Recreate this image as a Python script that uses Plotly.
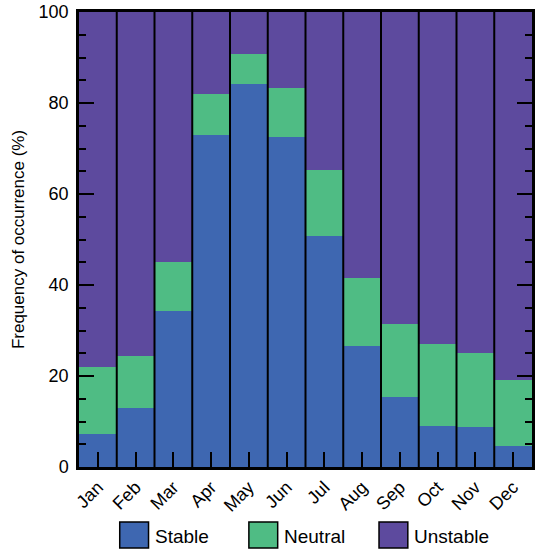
import plotly.graph_objects as go

months = ["Jan", "Feb", "Mar", "Apr", "May", "Jun", "Jul", "Aug", "Sep", "Oct", "Nov", "Dec"]
stable = [7.3, 13.0, 34.3, 73.0, 84.2, 72.5, 50.8, 26.6, 15.4, 9.0, 8.8, 4.6]
stable_plus_neutral = [21.9, 24.4, 45.0, 82.0, 90.8, 83.3, 65.3, 41.5, 31.4, 27.0, 25.1, 19.1]
neutral = [round(t - s, 1) for t, s in zip(stable_plus_neutral, stable)]
unstable = [round(100 - t, 1) for t in stable_plus_neutral]

series_names = ["Stable", "Neutral", "Unstable"]
series_values = [stable, neutral, unstable]
colors = ["#3E67B1", "#4FBC84", "#5D4A9E"]

W, H = 536, 549
L, R, T, B = 79, 1, 12, 82
pw, ph = W - L - R, H - T - B

def px(x):
    return (x - L) / pw

def py(y):
    return (H - B - y) / ph

fig = go.Figure()
for name, vals, c in zip(series_names, series_values, colors):
    fig.add_trace(go.Bar(x=months, y=vals, name=name, marker=dict(color=c, line=dict(width=0)),
                         showlegend=False, hoverinfo="skip"))

shapes = []
for i in range(len(months) - 1):
    shapes.append(dict(type="line", xref="x", yref="paper", x0=i + 0.5, x1=i + 0.5, y0=0, y1=1,
                       line=dict(color="black", width=2), layer="above"))

annotations = []
leg_x = [120, 250, 381]
text_x = [153, 283, 414]
for name, c, sx, tx in zip(series_names, colors, leg_x, text_x):
    shapes.append(dict(type="rect", xref="paper", yref="paper", x0=px(sx), x1=px(sx + 29),
                       y0=py(522), y1=py(548), fillcolor=c, line=dict(color="black", width=1.5)))
    annotations.append(dict(xref="paper", yref="paper", x=px(tx), y=py(536), text=name,
                            showarrow=False, xanchor="left", yanchor="middle",
                            font=dict(size=19, color="black")))

fig.update_layout(
    barmode="stack", bargap=0,
    width=W, height=H,
    margin=dict(l=L, r=R, t=T, b=B),
    paper_bgcolor="white", plot_bgcolor="white",
    font=dict(family="Liberation Sans, Arial, sans-serif", color="black", size=17),
    shapes=shapes, annotations=annotations,
    xaxis=dict(showline=True, linecolor="black", linewidth=2.5, mirror=True,
               ticks="inside", ticklen=15, tickwidth=2, tickcolor="black",
               tickangle=-45, tickfont=dict(size=18), showgrid=False, zeroline=False),
    yaxis=dict(range=[0, 100], dtick=20, showline=True, linecolor="black", linewidth=2.5,
               mirror="ticks", ticks="inside", ticklen=15, tickwidth=2, tickcolor="black",
               minor=dict(dtick=5, ticks="inside", ticklen=7, tickwidth=2, tickcolor="black"),
               showgrid=False, zeroline=False, tickfont=dict(size=18), ticklabelstandoff=4,
               title=dict(text="Frequency of occurrence (%)", font=dict(size=17), standoff=10)),
)

fig.write_html("out.html", config={"displayModeBar": False},
               post_script="document.body.style.margin='0';")
